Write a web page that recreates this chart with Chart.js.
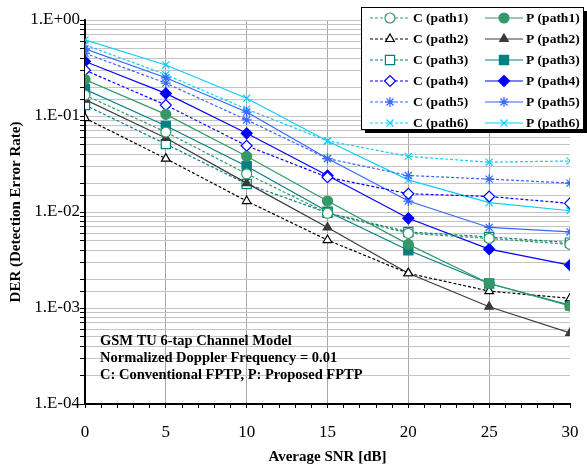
<!DOCTYPE html>
<html>
<head>
<meta charset="utf-8">
<script src="https://cdn.jsdelivr.net/npm/chart.js@4.4.1/dist/chart.umd.min.js"></script>
<style>
  html, body { margin: 0; padding: 0; background: #fff; }
  #wrap { width: 587px; height: 468px; }
</style>
</head>
<body>
<div id="wrap"><canvas id="derChart" width="587" height="468"></canvas></div>
<script>
// SNR points (x axis)
const snr = [0, 5, 10, 15, 20, 25, 30];

// DER values
const c1 = [0.165, 0.068, 0.025, 0.0097, 0.0060, 0.0053, 0.0046];
const p1 = [0.24, 0.104, 0.038, 0.013, 0.0046, 0.0018, 0.00105];
const c2 = [0.095, 0.036, 0.013, 0.0051, 0.0023, 0.0015, 0.00126];
const p2 = [0.148, 0.059, 0.020, 0.0069, 0.0023, 0.00103, 0.00055];
const c3 = [0.13, 0.051, 0.0196, 0.0098, 0.0062, 0.0055, 0.0048];
const p3 = [0.19, 0.079, 0.030, 0.0101, 0.0040, 0.0018, 0.00107];
const c4 = [0.30, 0.13, 0.049, 0.023, 0.0155, 0.0145, 0.0123];
const p4 = [0.37, 0.172, 0.066, 0.024, 0.0086, 0.0041, 0.0028];
const c5 = [0.45, 0.22, 0.091, 0.036, 0.024, 0.022, 0.020];
const p5 = [0.50, 0.25, 0.11, 0.036, 0.013, 0.0069, 0.0062];
const c6 = [0.55, 0.27, 0.118, 0.055, 0.038, 0.033, 0.034];
const p6 = [0.62, 0.34, 0.153, 0.055, 0.0216, 0.0125, 0.0103];

const notes = [
    'GSM TU 6-tap Channel Model',
    'Normalized Doppler Frequency = 0.01',
    'C: Conventional FPTP, P: Proposed FPTP'
];

const serif = "'Liberation Serif', 'Times New Roman', serif";

function pts(arr) {
    return arr.map((v, i) => ({ x: snr[i], y: v }));
}

function series(label, arr, color, style, filled, dashed, radius) {
    return {
        label: label,
        data: pts(arr),
        borderColor: color,
        backgroundColor: filled ? color : '#ffffff',
        pointBorderColor: color,
        pointBackgroundColor: filled ? color : '#ffffff',
        pointStyle: style,
        pointRadius: radius || 5,
        pointBorderWidth: 1.2,
        borderWidth: 1.2,
        borderDash: dashed ? [3, 2] : [],
        tension: 0
    };
}

const datasets = [
    series('C (path1)', c1, '#339966', 'circle', false, true),
    series('P (path1)', p1, '#339966', 'circle', true, false),
    series('C (path2)', c2, '#000000', 'triangle', false, true),
    series('P (path2)', p2, '#3a3a3a', 'triangle', true, false),
    series('C (path3)', c3, '#008080', 'rect', false, true, 6.5),
    series('P (path3)', p3, '#008080', 'rect', true, false, 6.5),
    series('C (path4)', c4, '#0000ff', 'rectRot', false, true, 5.5),
    series('P (path4)', p4, '#0000ff', 'rectRot', true, false, 5.5),
    series('C (path5)', c5, '#3366ff', 'star', false, true, 5),
    series('P (path5)', p5, '#3366ff', 'star', false, false, 5),
    series('C (path6)', c6, '#11ccff', 'crossRot', false, true, 5),
    series('P (path6)', p6, '#11ccff', 'crossRot', false, false, 5)
];

// legend box with drop shadow, two columns (C / P)
const legendBox = {
    id: 'legendBox',
    afterDraw(chart) {
        const ctx = chart.ctx;
        const bx = 361, by = 7, bw = 222, bh = 122;
        ctx.save();
        ctx.fillStyle = '#000';
        ctx.fillRect(bx + 4, by + 4, bw, bh);
        ctx.fillStyle = '#fff';
        ctx.fillRect(bx, by, bw, bh);
        ctx.strokeStyle = '#000';
        ctx.lineWidth = 1;
        ctx.strokeRect(bx + 0.5, by + 0.5, bw, bh);

        ctx.font = 'bold 13.5px ' + serif;
        ctx.textBaseline = 'middle';
        ctx.textAlign = 'left';
        chart.data.datasets.forEach((ds, i) => {
            const col = i % 2;
            const row = Math.floor(i / 2);
            const y = by + 11 + row * 21;
            const x0 = col === 0 ? 370 : 485;
            const x1 = col === 0 ? 410 : 523;
            ctx.strokeStyle = ds.borderColor;
            ctx.lineWidth = ds.borderWidth;
            ctx.setLineDash(ds.borderDash);
            ctx.beginPath();
            ctx.moveTo(x0, y);
            ctx.lineTo(x1, y);
            ctx.stroke();
            ctx.setLineDash([]);
            ctx.fillStyle = ds.pointBackgroundColor;
            ctx.strokeStyle = ds.pointBorderColor;
            ctx.lineWidth = ds.pointBorderWidth;
            Chart.helpers.drawPoint(ctx, {
                pointStyle: ds.pointStyle,
                radius: ds.pointRadius,
                borderWidth: ds.pointBorderWidth,
                rotation: 0
            }, (x0 + x1) / 2, y);
            ctx.fillStyle = '#000';
            ctx.fillText(ds.label, x1 + 3, y + 1);
        });
        ctx.restore();
    }
};

// notes in the lower left of the plot
const notesText = {
    id: 'notesText',
    afterDraw(chart) {
        const ctx = chart.ctx;
        ctx.save();
        ctx.font = 'bold 14.5px ' + serif;
        ctx.fillStyle = '#000';
        ctx.textBaseline = 'middle';
        notes.forEach((t, i) => ctx.fillText(t, 100, 341 + i * 17));
        ctx.restore();
    }
};

function decadeLabel(v) {
    const e = Math.round(Math.log10(v));
    if (Math.abs(v / Math.pow(10, e) - 1) > 1e-6) return '';
    const sign = e < 0 ? '-' : '+';
    return '1.E' + sign + String(Math.abs(e)).padStart(2, '0');
}

const ctx1 = document.getElementById('derChart').getContext('2d');
const derChart = new Chart(ctx1, {
    type: 'line',
    data: { datasets: datasets },
    options: {
        responsive: false,
        animation: false,
        layout: { padding: { top: 20, right: 17, left: 0, bottom: 0 } },
        plugins: {
            legend: { display: false },
            tooltip: { enabled: false }
        },
        scales: {
            x: {
                type: 'linear',
                min: 0,
                max: 30,
                afterFit: s => { s.height = 64; s.paddingRight = 0; s.paddingLeft = 0; },
                border: { color: '#000', width: 2 },
                grid: {
                    color: c => (c.tick && c.tick.value % 5 === 0 && c.tick.value > 0 && c.tick.value < 30) ? '#a8a8a8' : 'rgba(0,0,0,0)',
                    lineWidth: 1,
                    tickColor: '#000',
                    tickLength: 4
                },
                ticks: {
                    stepSize: 1,
                    autoSkip: false,
                    maxRotation: 0,
                    padding: 14,
                    color: '#000',
                    font: { family: serif, size: 17 },
                    callback: v => (v % 5 === 0 ? String(v) : '')
                },
                title: {
                    display: true,
                    text: 'Average SNR [dB]',
                    color: '#000',
                    font: { family: serif, size: 15, weight: 'bold' },
                    padding: { top: 0, bottom: 2 }
                }
            },
            y: {
                type: 'logarithmic',
                min: 1e-4,
                max: 1,
                afterFit: s => { s.width = 85; s.paddingTop = 0; s.paddingBottom = 0; },
                border: { color: '#000', width: 2 },
                grid: {
                    color: '#c4c4c4',
                    lineWidth: 1,
                    tickColor: '#000',
                    tickLength: 5
                },
                ticks: {
                    autoSkip: false,
                    padding: 0,
                    color: '#000',
                    font: { family: serif, size: 17 },
                    callback: v => decadeLabel(v)
                },
                title: {
                    display: true,
                    text: 'DER (Detection Error Rate)',
                    color: '#000',
                    font: { family: serif, size: 15, weight: 'bold' },
                    padding: { top: 7, bottom: 0 }
                }
            }
        }
    },
    plugins: [legendBox, notesText]
});
</script>
</body>
</html>
